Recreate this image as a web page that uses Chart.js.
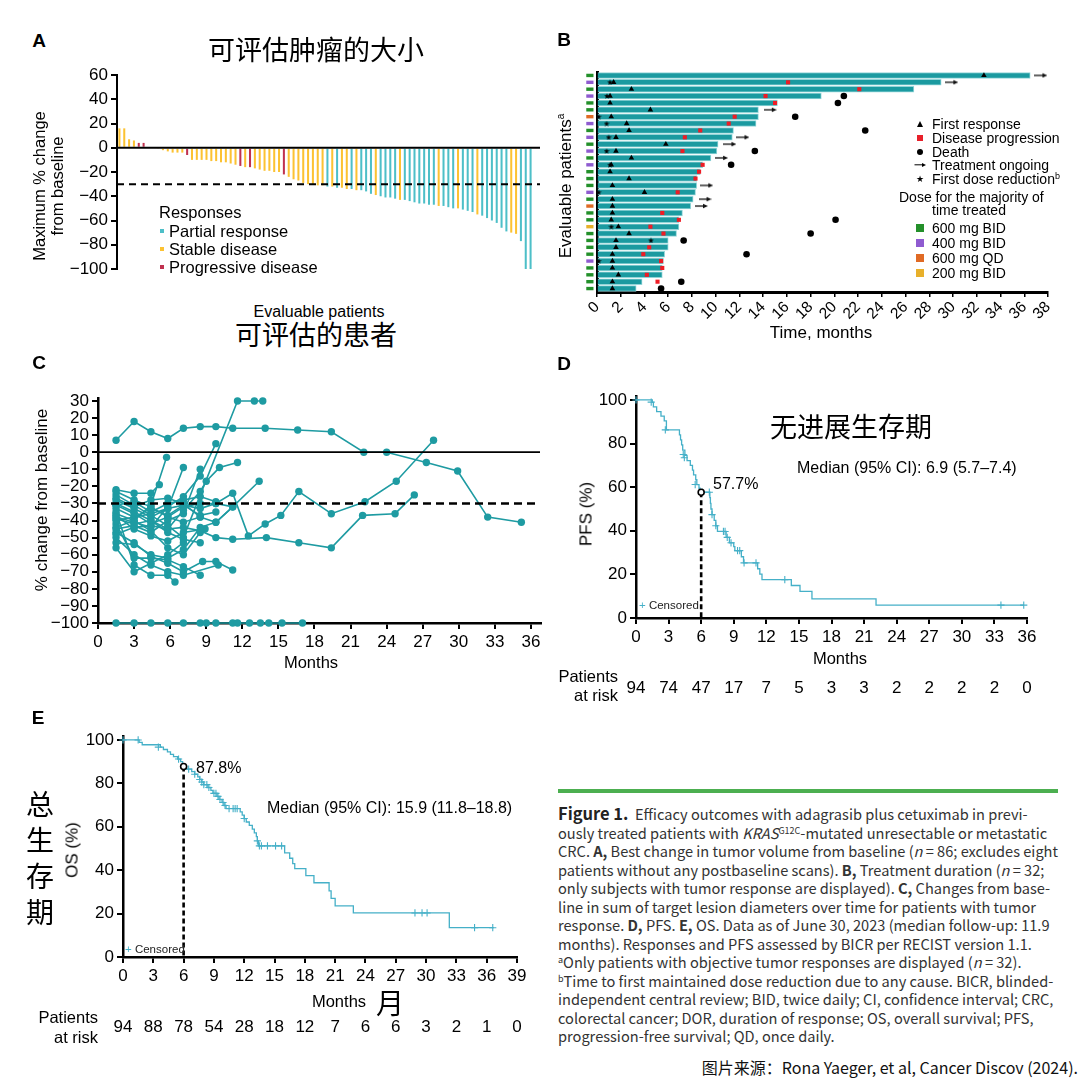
<!DOCTYPE html>
<html><head><meta charset="utf-8">
<script src="https://cdn.jsdelivr.net/npm/chart.js@4.4.1/dist/chart.umd.min.js"></script>
<style>
html,body{margin:0;padding:0;background:#fff}
body{width:1080px;height:1088px;position:relative;overflow:hidden;font-family:'Liberation Sans',Arial,sans-serif;color:#000}
canvas{position:absolute}
.t{position:absolute;white-space:nowrap;line-height:1}
.cc{transform:translate(-50%,-50%)}
.lc{transform:translateY(-50%)}
.rc{transform:translate(-100%,-50%)}
.rot{transform:translate(-50%,-50%) rotate(-90deg)}
.lbl{font-weight:bold;font-size:19px}
.cjk{font-family:'Noto Sans CJK SC',sans-serif}
.ic{position:absolute;transform:translate(-50%,-50%)}
#cap{position:absolute;left:558px;top:804px;font-family:'Noto Sans CJK SC',sans-serif;font-size:14.6px;line-height:18.5px;color:#333;white-space:nowrap}
#cap sup{font-size:9px;vertical-align:5px;line-height:0}
</style></head><body>

<canvas id="cA" width="545" height="225" style="left:0;top:60px"></canvas>
<canvas id="cB" width="540" height="300" style="left:540px;top:40px"></canvas>
<canvas id="cC" width="545" height="300" style="left:0;top:380px"></canvas>
<canvas id="cD" width="535" height="330" style="left:545px;top:380px"></canvas>
<canvas id="cE" width="545" height="330" style="left:0;top:720px"></canvas>

<!-- Panel A text -->
<div class="t cc lbl" style="left:39px;top:40px">A</div>
<div class="t cc cjk" style="left:316px;top:48px;font-size:27px">可评估肿瘤的大小</div>
<div class="t rot" style="left:39px;top:186px;font-size:16.5px">Maximum % change</div>
<div class="t rot" style="left:57px;top:186px;font-size:16.5px">from baseline</div>
<div class="t lc" style="left:159px;top:212px;font-size:16.5px">Responses</div>
<div class="ic" style="left:162px;top:231px;width:4px;height:4px;background:#4dbfc8"></div>
<div class="t lc" style="left:169px;top:231px;font-size:16.5px">Partial response</div>
<div class="ic" style="left:162px;top:249px;width:4px;height:4px;background:#fcc232"></div>
<div class="t lc" style="left:169px;top:249px;font-size:16.5px">Stable disease</div>
<div class="ic" style="left:162px;top:267px;width:4px;height:4px;background:#c0314f"></div>
<div class="t lc" style="left:169px;top:267px;font-size:16.5px">Progressive disease</div>
<div class="t cc" style="left:319px;top:312px;font-size:16px">Evaluable patients</div>
<div class="t cc cjk" style="left:316px;top:333px;font-size:27px">可评估的患者</div>

<!-- Panel B text -->
<div class="t cc lbl" style="left:564px;top:39px">B</div>
<div class="t rot" style="left:565px;top:186px;font-size:17px">Evaluable patients<sup style="font-size:10px">a</sup></div>
<div class="t cc" style="left:821px;top:332px;font-size:17px">Time, months</div>
<div class="ic" style="left:920px;top:124px;width:0;height:0;border-left:3.5px solid transparent;border-right:3.5px solid transparent;border-bottom:6px solid #000"></div>
<div class="t lc" style="left:932px;top:124px;font-size:14px">First response</div>
<div class="ic" style="left:920px;top:138px;width:6px;height:6px;background:#e8202a"></div>
<div class="t lc" style="left:932px;top:138px;font-size:14px">Disease progression</div>
<div class="ic" style="left:920px;top:152px;width:6px;height:6px;border-radius:50%;background:#000"></div>
<div class="t lc" style="left:932px;top:152px;font-size:14px">Death</div>
<div class="ic" style="left:919px;top:165px;width:9px;height:1.4px;background:#000"></div>
<div class="ic" style="left:924px;top:165px;width:0;height:0;border-top:2.5px solid transparent;border-bottom:2.5px solid transparent;border-left:4px solid #000"></div>
<div class="t lc" style="left:932px;top:165px;font-size:14px">Treatment ongoing</div>
<div class="t cc" style="left:920px;top:179px;font-size:9px">★</div>
<div class="t lc" style="left:932px;top:179px;font-size:14px">First dose reduction<sup style="font-size:9px">b</sup></div>
<div class="t lc" style="left:899px;top:197px;font-size:14px">Dose for the majority of</div>
<div class="t lc" style="left:932px;top:210px;font-size:14px">time treated</div>
<div class="ic" style="left:920px;top:228px;width:8px;height:8px;background:#23902a"></div>
<div class="t lc" style="left:932px;top:228px;font-size:14px">600 mg BID</div>
<div class="ic" style="left:920px;top:243px;width:8px;height:8px;background:#8f5bd0"></div>
<div class="t lc" style="left:932px;top:243px;font-size:14px">400 mg BID</div>
<div class="ic" style="left:920px;top:258px;width:8px;height:8px;background:#e06a25"></div>
<div class="t lc" style="left:932px;top:258px;font-size:14px">600 mg QD</div>
<div class="ic" style="left:920px;top:273px;width:8px;height:8px;background:#e8b02a"></div>
<div class="t lc" style="left:932px;top:273px;font-size:14px">200 mg BID</div>

<!-- Panel C text -->
<div class="t cc lbl" style="left:39px;top:362px">C</div>
<div class="t rot" style="left:41px;top:500px;font-size:17px">% change from baseline</div>
<div class="t cc" style="left:311px;top:662px;font-size:16.5px">Months</div>

<!-- Panel D text -->
<div class="t cc lbl" style="left:564px;top:363px">D</div>
<div class="t cc cjk" style="left:851px;top:425px;font-size:27px">无进展生存期</div>
<div class="t lc" style="left:797px;top:468px;font-size:16px">Median (95% CI): 6.9 (5.7–7.4)</div>
<div class="t lc" style="left:713px;top:484px;font-size:16px">57.7%</div>
<div class="t rot" style="left:586px;top:514px;font-size:17px">PFS (%)</div>
<div class="t lc" style="left:639px;top:606px;font-size:11.5px;color:#222"><span style="color:#45b0c8">+</span> Censored</div>
<div class="t cc" style="left:840px;top:658px;font-size:16.5px">Months</div>
<div class="t rc" style="left:618px;top:676px;font-size:16.5px">Patients</div>
<div class="t rc" style="left:618px;top:695px;font-size:16.5px">at risk</div>

<!-- Panel E text -->
<div class="t cc lbl" style="left:38px;top:717px">E</div>
<div class="t cc cjk" style="left:40px;top:803px;font-size:28px">总</div>
<div class="t cc cjk" style="left:40px;top:839px;font-size:28px">生</div>
<div class="t cc cjk" style="left:40px;top:875px;font-size:28px">存</div>
<div class="t cc cjk" style="left:40px;top:911px;font-size:28px">期</div>
<div class="t rot" style="left:72px;top:850px;font-size:17px">OS (%)</div>
<div class="t lc" style="left:196px;top:768px;font-size:16px">87.8%</div>
<div class="t lc" style="left:267px;top:808px;font-size:16px">Median (95% CI): 15.9 (11.8–18.8)</div>
<div class="t lc" style="left:125px;top:950px;font-size:11.5px;color:#222"><span style="color:#45b0c8">+</span> Censored</div>
<div class="t cc" style="left:339px;top:1001px;font-size:16.5px">Months</div>
<div class="t cc cjk" style="left:390px;top:1002px;font-size:28px">月</div>
<div class="t rc" style="left:98px;top:1017px;font-size:16.5px">Patients</div>
<div class="t rc" style="left:98px;top:1037px;font-size:16.5px">at risk</div>

<!-- Caption -->
<div style="position:absolute;left:558px;top:789px;width:500px;height:4px;background:#4caf50"></div>
<div id="cap">
<div><b style="font-size:16.5px;color:#222">Figure 1.</b>&nbsp; Efficacy outcomes with adagrasib plus cetuximab in previ-</div>
<div>ously treated patients with <i>KRAS</i><sup>G12C</sup>-mutated unresectable or metastatic</div>
<div>CRC. <b>A,</b> Best change in tumor volume from baseline (<i>n</i> = 86; excludes eight</div>
<div>patients without any postbaseline scans). <b>B,</b> Treatment duration (<i>n</i> = 32;</div>
<div>only subjects with tumor response are displayed). <b>C,</b> Changes from base-</div>
<div>line in sum of target lesion diameters over time for patients with tumor</div>
<div>response. <b>D,</b> PFS. <b>E,</b> OS. Data as of June 30, 2023 (median follow-up: 11.9</div>
<div>months). Responses and PFS assessed by BICR per RECIST version 1.1.</div>
<div><sup>a</sup>Only patients with objective tumor responses are displayed (<i>n</i> = 32).</div>
<div><sup>b</sup>Time to first maintained dose reduction due to any cause. BICR, blinded-</div>
<div>independent central review; BID, twice daily; CI, confidence interval; CRC,</div>
<div>colorectal cancer; DOR, duration of response; OS, overall survival; PFS,</div>
<div>progression-free survival; QD, once daily.</div>
</div>
<div class="t rc cjk" style="left:1078px;top:1067px;font-size:16px;color:#111">图片来源：Rona Yaeger, et al, Cancer Discov (2024).</div>

<script>
// ===================== DATA =====================
// Panel A: best change in tumor volume (waterfall), n = 86
const aChange = [16,16,7,6,4,4,0,0,
  -1,-2,-3,-4,-4,-4,-6,-10,-10,-10,-10,-11,-11,-12,-12,-13,-14,-15,-16,-16,-17,-18,-19,-19,-20,-20,-22,-24,-26,-27,-29,-30,-30,
  -31,-31,-32,-32,-33,-33,-34,-34,-35,-35,-36,-38,-39,-40,-41,-41,-42,-43,-43,-44,-45,-46,-46,-47,-47,-48,-48,-49,-50,-50,-51,-52,-53,-55,-56,-58,-60,-62,-66,-69,-70,-71,-77,-100,-100];
const aResponse = ['SD','SD','SD','SD','PD','PD','SD','SD',
  'SD','SD','SD','SD','SD','SD','PD','SD','SD','SD','SD','SD','SD','SD','SD','SD','SD','PD','SD','PD','SD','SD','SD','SD','SD','SD','PD','SD','SD','SD','SD','SD','SD',
  'SD','SD','PR','SD','PR','SD','SD','PR','SD','PR','PR','PR','SD','PR','PR','PR','PR','SD','PR','PR','PR','PR','PR','PR','PR','SD','PR','PR','PR','SD','PR','PR','PR','SD','PR','PR','PR','PR','PR','PR','SD','SD','PR','PR','PR'];
const aPatients = aChange.map((_, i) => String(i + 1));
const aTicks = [60, 40, 20, 0, -20, -40, -60, -80, -100];

// Panel B: swimmer plot, n = 32 (months)
const bDuration = [36.5,29.0,26.7,18.9,15.2,13.6,13.6,13.4,11.5,11.4,10.2,10.1,9.6,8.9,8.7,8.4,8.4,8.3,8.1,7.9,7.2,6.9,6.9,6.7,6.0,6.0,5.7,5.6,5.5,5.5,3.8,3.3];
const bDose = ['600 mg BID','400 mg BID','600 mg BID','400 mg BID','600 mg BID','600 mg BID','600 mg QD','400 mg BID','600 mg BID','400 mg BID','600 mg BID','400 mg BID','600 mg BID','400 mg BID','600 mg BID','600 mg BID','600 mg BID','400 mg BID','600 mg BID','600 mg QD','600 mg BID','600 mg BID','200 mg BID','600 mg BID','600 mg BID','600 mg BID','600 mg BID','400 mg BID','600 mg BID','600 mg BID','600 mg BID','600 mg BID'];
const bFirstResponse = [32.6,1.4,2.9,1.1,1.1,4.5,1.2,2.5,2.7,1.6,5.8,1.6,2.9,1.2,1.1,2.7,1.3,4.0,1.3,1.3,1.3,1.2,1.8,2.7,1.6,1.6,1.3,1.3,1.3,1.8,1.3,1.3];
const bProgressionRow   = [2,3,4,5,7,8,9,10,12,14,15,16,18,21,22,23,24,26,27,28,29,30,31];
const bProgressionMonth = [16.1,22.1,14.2,15.0,11.6,11.1,8.7,7.4,7.2,8.9,8.6,8.3,6.8,5.5,6.9,4.5,5.6,4.4,3.9,5.4,5.5,4.2,5.1];
const bDeathRow   = [4,5,7,9,12,14,22,24,25,27,31,32];
const bDeathMonth = [20.8,20.3,16.7,22.6,13.3,11.3,20.1,18.0,7.3,12.6,7.1,5.4];
const bOngoingRow   = [1,2,6,10,11,13,17,19,20];
const bOngoingMonth = [37.4,29.9,14.6,12.3,11.2,10.5,9.25,9.1,8.8];
const bReductionRow   = [2,4,7,8,10,12,14,18,23,25,28];
const bReductionMonth = [1.1,0.84,0.14,0.81,0.98,0.81,1.1,0.14,1.21,4.54,0.14];
const bPatients = bDuration.map((_, i) => String(i + 1));

// Panel C: % change from baseline over time (each patient [month, %])
const cPatients = [
  [[1.5,7],[3,18],[4.4,12],[5.8,8],[7.1,14],[8.5,15],[9.8,15],[11.2,14],[13.9,14],[16.6,13],[19.4,12],[22.1,0],[24,0],[27.3,-6],[29.9,-11],[32.4,-38],[35.2,-41]],
  [[1.5,-25],[3,-31],[4.4,-37],[5.8,-43],[7.1,-50],[11.6,30],[13,30],[13.7,30]],
  [[1.5,-38],[3,-41],[4.4,-44],[5.8,-32],[7.1,-26],[8.5,-14],[9.8,5]],
  [[1.5,-30],[3,-35],[4.4,-40],[5.8,-45],[7.1,-34],[8.5,-23],[9,-17],[10.1,-9],[11.6,-6]],
  [[1.5,-22],[3,-24],[4.4,-24],[5.1,-19]],
  [[1.5,-36],[3,-40],[4.4,-31],[5.7,-3]],
  [[1.5,-28],[3,-33],[4.4,-38],[5.8,-33],[7.1,-9]],
  [[1.5,-45],[3,-43],[4.4,-47],[5.8,-40],[7.1,-36],[8.5,-10]],
  [[1.5,-33],[3,-38],[4.4,-36],[5.8,-33],[7.1,-31],[8.5,-33],[9.8,-30],[11.2,-32],[13.4,-17]],
  [[1.5,-31],[3,-36],[4.4,-42],[5.8,-38],[7.1,-32],[8.5,-30],[9.8,-30],[11.2,-24],[12.5,-49],[13.9,-42],[15.2,-37],[16.7,-23],[19.4,-36],[22.2,-29],[24.8,-17],[27.9,7]],
  [[1.5,-48],[3,-44],[4.4,-43],[5.8,-45],[7.1,-44],[8.5,-46],[9.8,-50],[11.2,-51],[14,-50],[16.7,-53],[19.4,-56],[22,-37],[24.7,-36],[26.3,-25]],
  [[1.5,-40],[3,-38],[4.4,-33],[5.8,-37],[7.1,-31],[8.5,-37],[9.8,-35]],
  [[1.5,-53],[3,-54],[4.4,-60],[5.8,-62],[7.1,-57],[8.5,-44],[9.8,-41],[11.2,-32]],
  [[1.5,-56],[3,-70],[4.4,-65],[5.8,-60],[7.1,-53]],
  [[1.5,-35],[3,-66],[4.4,-72],[5.8,-72],[6.4,-76]],
  [[1.5,-42],[3,-62],[4.4,-62],[5.8,-63],[7.1,-67],[8.5,-72]],
  [[1.5,-47],[3,-53],[4.4,-61],[5.8,-65],[7.1,-70],[8.7,-64],[9.8,-64],[11.2,-69]],
  [[1.5,-50],[3,-60],[4.4,-66],[5.8,-70],[7.1,-72],[10,-66]],
  [[1.5,-37],[3,-45],[4.4,-49],[5.8,-52],[7.1,-47],[8.9,-45]],
  [[1.5,-39],[3,-42],[4.4,-40],[5.8,-47],[7.1,-51],[8.5,-53]],
  [[1.5,-44],[3,-40],[4.4,-46],[5.8,-56],[7.1,-60],[8.5,-47]],
  [[1.5,-27],[3,-32],[4.4,-28],[5.8,-27],[7.1,-30],[8.5,-38]],
  [[1.5,-31],[3,-29],[4.4,-35],[5.8,-30],[7.1,-28],[8.5,-26],[9.8,-29]],
  [[1.5,-23],[3,-28],[4.4,-32],[5.8,-38],[7.1,-41],[8.5,-38],[9.8,-41],[11.2,-32]],
  [[1.5,-100],[3,-100],[4.4,-100],[5.8,-100],[7.1,-100],[8.5,-100],[9,-100],[9.8,-100],[11.2,-100],[11.6,-100],[12.6,-100],[13.5,-100],[14.2,-100],[15.3,-100],[17,-100]]
];

// Panel D: PFS Kaplan-Meier (month, %)
const pfsMonths = [0,1.5,1.6,1.9,2.3,2.6,2.8,4.0,4.1,4.2,4.3,4.5,4.7,5.0,5.2,5.3,5.5,5.6,5.8,5.9,6.8,6.85,6.9,7.0,7.2,7.35,7.5,8.3,8.6,9.0,9.1,9.7,9.9,11.2,11.4,11.6,14.3,15.1,16.2,22.1,35.7];
const pfsSurvival = [100,98.9,96.8,94.7,92.6,90.4,86.3,84.0,81.7,79.4,77.0,74.6,72.2,70.0,67.8,65.6,63.4,61.2,59.5,57.7,55.2,52.6,50.0,47.4,44.8,42.3,39.7,37.0,34.5,32.7,30.9,28.1,25.3,22.6,20.1,17.6,14.9,12.2,8.8,5.9,5.9];
const pfsCensoredMonths = [0,1.4,2.7,4.35,4.45,5.45,6.1,6.75,7.0,7.35,8.05,8.2,8.4,8.75,9.35,9.55,9.95,11.05,13.7,33.6,35.7];
const pfsCensoredValue  = [100,99,86.3,75,73.5,61.2,57.7,57.7,47.4,42.3,39.7,39.7,37.0,34.5,30.9,30.9,25.3,25.3,17.6,5.9,5.9];
const pfsAtRisk = [94,74,47,17,7,5,3,3,2,2,2,2,0];
const pfsTicksX = [0,3,6,9,12,15,18,21,24,27,30,33,36];

// Panel E: OS Kaplan-Meier (month, %)
const osMonths = [0,1.6,1.9,3.7,4.0,4.4,4.7,5.0,5.4,5.7,5.9,6.0,6.3,6.8,7.1,7.4,7.6,7.8,8.0,8.4,8.7,8.9,9.3,9.5,9.8,10.0,10.2,11.6,11.8,12.0,12.2,12.5,12.8,13.0,13.2,13.3,13.4,16.0,16.5,16.8,17.0,18.1,18.9,20.4,20.6,21.0,22.8,32.3,36.7];
const osSurvival = [100,98.9,97.8,96.7,95.6,94.5,93.4,92.3,91.2,90.0,88.9,87.8,86.6,85.4,84.2,83.0,81.8,80.6,79.4,78.1,76.8,75.4,74.0,72.6,71.2,69.8,68.4,66.9,65.4,63.8,62.2,60.6,58.9,57.2,55.5,53.5,51.2,48.0,45.5,43.0,40.7,37.5,34.2,30.5,27.0,23.6,20.3,13.5,13.5];
const osCensoredMonths = [0,1.5,3.5,5.5,6.5,7.1,7.6,7.8,8.0,8.3,8.5,9.0,9.2,9.4,9.6,9.9,10.1,10.5,10.9,11.1,11.3,12.0,13.3,13.5,13.7,14.3,15.1,15.7,28.9,29.6,30.1,34.8,36.6];
const osCensoredValue  = [100,100,96.7,91.2,86.6,84.2,81.8,80.6,79.4,79.4,78.1,75.4,75.4,74.0,72.6,71.2,69.8,68.4,68.4,68.4,68.4,63.8,53.5,51.2,51.2,51.2,51.2,51.2,20.3,20.3,20.3,13.5,13.5];
const osAtRisk = [94,88,78,54,28,18,12,7,6,6,3,2,1,0];
const osTicksX = [0,3,6,9,12,15,18,21,24,27,30,33,36,39];

const pfsMilestone = {month: 6, value: 57.7};
const osMilestone = {month: 6, value: 87.8};

// ===================== STYLE =====================
const respColors = {PR:'#4dbfc8', SD:'#fcc232', PD:'#c0314f'};
const doseColors = {'600 mg BID':'#23902a','400 mg BID':'#8f5bd0','600 mg QD':'#e06a25','200 mg BID':'#e8b02a'};
const TEAL = '#1e9ba2';
const KM = '#45b0c8';

Chart.defaults.font.family = "'Liberation Sans', Arial, sans-serif";
Chart.defaults.color = '#000';
Chart.defaults.animation = false;
Chart.defaults.plugins.legend.display = false;
Chart.defaults.plugins.tooltip.enabled = false;

const minus = v => String(v).replace('-', '\u2212');

const refLines = {
  id: 'refLines',
  afterDatasetsDraw(chart, args, opts) {
    const ys = chart.scales.y, ctx = chart.ctx, ca = chart.chartArea;
    (opts.lines || []).forEach(l => {
      const py = ys.getPixelForValue(l.value);
      ctx.save();
      ctx.strokeStyle = '#000';
      ctx.lineWidth = l.width;
      ctx.setLineDash(l.dash || []);
      ctx.beginPath();
      ctx.moveTo(ca.left, py);
      ctx.lineTo(l.right, py);
      ctx.stroke();
      ctx.restore();
    });
  }
};

// dose swatches drawn left of the y axis at a data-x position through the chart scales
const doseMarks = {
  id: 'doseMarks',
  afterDatasetsDraw(chart, args, opts) {
    const xs = chart.scales.x, ys = chart.scales.y, ctx = chart.ctx;
    const px = xs.getPixelForValue(opts.at);
    ctx.save();
    opts.doses.forEach((d, i) => {
      const py = ys.getPixelForValue(i);
      ctx.fillStyle = opts.colors[d];
      ctx.fillRect(px - 3.6, py - 1.7, 7.2, 3.4);
    });
    ctx.restore();
  }
};

function yAxis(min, max, step, width, extra) {
  return Object.assign({
    type: 'linear', min, max,
    ticks: {stepSize: step, includeBounds: false, autoSkip: false, font: {size: 17}, padding: 3, callback: v => minus(v)},
    border: {color: '#000', width: 2.5},
    grid: {drawOnChartArea: false, color: '#000', lineWidth: 2, tickLength: 6},
    afterFit: s => { s.width = width; }
  }, extra || {});
}
function xAxis(min, max, step, height, extra) {
  return Object.assign({
    type: 'linear', min, max,
    ticks: {stepSize: step, includeBounds: false, font: {size: 17}, padding: 3, maxRotation: 0, autoSkip: false},
    border: {color: '#000', width: 2.5},
    grid: {drawOnChartArea: false, color: '#000', lineWidth: 2, tickLength: 6},
    afterFit: s => { s.height = height; }
  }, extra || {});
}

// ===================== PANEL A =====================
new Chart(document.getElementById('cA'), {
  type: 'bar',
  data: {labels: aPatients, datasets: [{
    data: aChange,
    backgroundColor: aResponse.map(r => respColors[r]),
    barPercentage: 0.42, categoryPercentage: 1
  }]},
  options: {
    responsive: false, events: [],
    layout: {padding: {top: 15, bottom: 16, left: 0, right: 12}},
    plugins: {refLines: {lines: [{value: 0, width: 2, right: 540}, {value: -30, width: 2, dash: [7, 5], right: 540}]}},
    scales: {
      x: {display: false, offset: true},
      y: yAxis(aTicks[aTicks.length - 1], aTicks[0], 20, 117, {border: {color: '#000', width: 2}})
    }
  },
  plugins: [refLines]
});

// ===================== PANEL B =====================
function starImg() {
  const c = document.createElement('canvas'); c.width = 6; c.height = 6;
  const g = c.getContext('2d'); g.fillStyle = '#000'; g.beginPath();
  for (let i = 0; i < 10; i++) {
    const r = i % 2 ? 1.2 : 3, a = -Math.PI / 2 + i * Math.PI / 5;
    g.lineTo(3 + r * Math.cos(a), 3.3 + r * Math.sin(a));
  }
  g.closePath(); g.fill(); return c;
}
function arrowImg() {
  const c = document.createElement('canvas'); c.width = 13; c.height = 6;
  const g = c.getContext('2d'); g.strokeStyle = '#111'; g.fillStyle = '#111'; g.lineWidth = 1.3;
  g.beginPath(); g.moveTo(0, 3); g.lineTo(9, 3); g.stroke();
  g.beginPath(); g.moveTo(13, 3); g.lineTo(8, 0.8); g.lineTo(8, 5.2); g.closePath(); g.fill();
  return c;
}
const rowPts = (rows, months) => rows.map((r, i) => ({x: months[i], y: bPatients[r - 1]}));
const marker = (data, style) => Object.assign({type: 'scatter', data, order: 1, clip: false, pointBorderWidth: 0}, style);

new Chart(document.getElementById('cB'), {
  type: 'bar',
  data: {labels: bPatients, datasets: [
    {type: 'bar', data: bDuration, backgroundColor: '#1b9aa0', borderColor: '#93d5d8', borderWidth: 1, barThickness: 5.8, order: 10},
    marker(bFirstResponse.map((m, i) => ({x: m, y: bPatients[i]})), {pointStyle: 'triangle', pointRadius: 3.2, pointBackgroundColor: '#000'}),
    marker(rowPts(bProgressionRow, bProgressionMonth), {pointStyle: 'rect', pointRadius: 2.9, pointBackgroundColor: '#ee1c25'}),
    marker(rowPts(bDeathRow, bDeathMonth), {pointStyle: 'circle', pointRadius: 3.3, pointBackgroundColor: '#000'}),
    marker(rowPts(bOngoingRow, bOngoingMonth), {pointStyle: arrowImg(), pointRadius: 6}),
    marker(rowPts(bReductionRow, bReductionMonth), {pointStyle: starImg(), pointRadius: 3})
  ]},
  options: {
    responsive: false, events: [], indexAxis: 'y',
    layout: {padding: {top: 32, bottom: 0, left: 0, right: 32}},
    plugins: {doseMarks: {at: -0.6, doses: bDose, colors: doseColors}},
    scales: {
      x: {type: 'linear', min: 0, max: 38,
        ticks: {stepSize: 2, font: {size: 15.5}, minRotation: 45, maxRotation: 45, autoSkip: false, padding: 1},
        border: {color: '#000', width: 3},
        grid: {drawOnChartArea: false, color: '#000', lineWidth: 1.5, tickLength: 5},
        afterFit: s => { s.height = 48; }},
      y: {type: 'category', ticks: {display: false}, grid: {display: false},
        border: {color: '#000', width: 3}, afterFit: s => { s.width = 57; }}
    }
  },
  plugins: [doseMarks]
});

// ===================== PANEL C =====================
new Chart(document.getElementById('cC'), {
  type: 'scatter',
  data: {datasets: cPatients.map(p => ({
    data: p.map(q => ({x: q[0], y: q[1]})), showLine: true,
    borderColor: TEAL, backgroundColor: TEAL, pointBackgroundColor: TEAL,
    borderWidth: 1.6, pointRadius: 3.7, pointBorderWidth: 0, clip: false
  }))},
  options: {
    responsive: false, events: [],
    layout: {padding: {top: 18.4, bottom: 27, left: 0, right: 4.4}},
    plugins: {refLines: {lines: [{value: 0, width: 1.8, right: 540}, {value: -30, width: 2.5, dash: [8, 5], right: 540}]}},
    scales: {
      x: xAxis(0, 36.8, 3, 30),
      y: yAxis(-100, 31.5, 10, 98)
    }
  },
  plugins: [refLines]
});

// ===================== PANELS D & E =====================
function kmChart(id, months, surv, cm, cv, milestone, ticksX, atRisk, opt) {
  const maxX = ticksX[ticksX.length - 1];
  new Chart(document.getElementById(id), {
    type: 'scatter',
    data: {datasets: [
      {data: months.map((m, i) => ({x: m, y: surv[i]})), showLine: true, stepped: true,
       borderColor: KM, borderWidth: 1.3, pointRadius: 0, clip: false, order: 3},
      {data: cm.map((m, i) => ({x: m, y: cv[i]})), pointStyle: 'cross', pointRadius: 3.6,
       borderColor: KM, pointBorderColor: KM, pointBorderWidth: 1.1, clip: false, order: 2},
      {data: [{x: milestone.month, y: milestone.value}, {x: milestone.month, y: 0}], showLine: true,
       borderColor: '#000', borderWidth: 2.6, borderDash: [5, 3],
       pointRadius: [3, 0], pointBackgroundColor: '#fff', pointBorderColor: '#000', pointBorderWidth: 1.6,
       clip: false, order: 1}
    ]},
    options: {
      responsive: false, events: [],
      layout: {padding: {top: opt.top, bottom: opt.bottom, left: 0, right: opt.right}},
      scales: {
        x: xAxis(0, maxX, 3, opt.xh),
        xRisk: {type: 'linear', position: 'bottom', weight: 1, min: 0, max: maxX,
          ticks: {stepSize: 3, includeBounds: false, font: {size: 17}, padding: opt.riskPad, maxRotation: 0, autoSkip: false,
            callback: (v, i) => atRisk[i]},
          border: {display: false}, grid: {display: false, drawTicks: false},
          afterFit: s => { s.height = opt.rh; }},
        y: yAxis(0, 101.5, 20, opt.yw)
      }
    }
  });
}
kmChart('cD', pfsMonths, pfsSurvival, pfsCensoredMonths, pfsCensoredValue, pfsMilestone, pfsTicksX, pfsAtRisk,
  {top: 16.7, bottom: 10, right: 53, yw: 91, xh: 48, rh: 34, riskPad: 12});
kmChart('cE', osMonths, osSurvival, osCensoredMonths, osCensoredValue, osMilestone, osTicksX, osAtRisk,
  {top: 16.7, bottom: 11, right: 28, yw: 123, xh: 52, rh: 30, riskPad: 8});
</script>
</body></html>
